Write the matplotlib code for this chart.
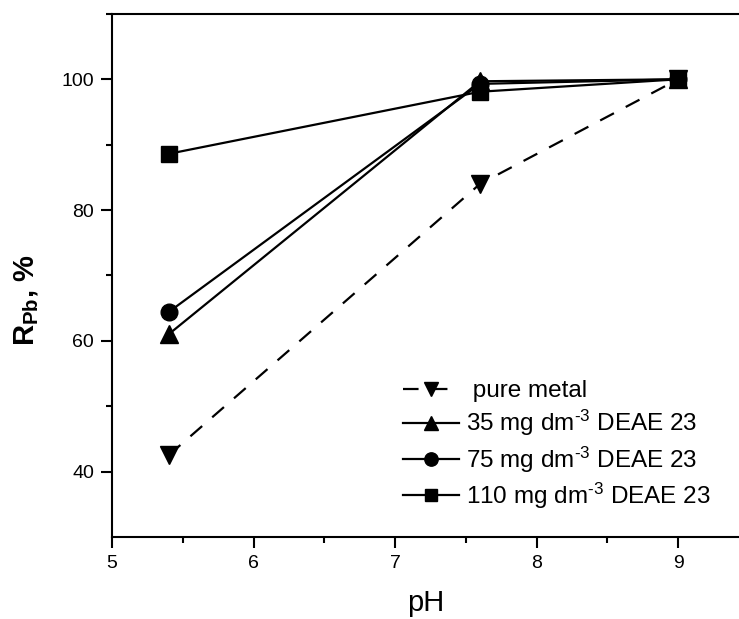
import matplotlib.pyplot as plt

plt.rcParams['font.family'] = ['Liberation Sans', 'DejaVu Sans']
plt.rcParams['mathtext.fontset'] = 'custom'
plt.rcParams['mathtext.rm'] = 'Liberation Sans'
plt.rcParams['mathtext.it'] = 'Liberation Sans:italic'
plt.rcParams['mathtext.bf'] = 'Liberation Sans:bold'

ph = [5.4, 7.6, 9.0]
pure_metal = [42.5, 84.0, 100.0]
deae_35 = [61.0, 99.7, 100.0]
deae_75 = [64.4, 99.3, 100.0]
deae_110 = [88.6, 98.1, 100.0]

labels = [' pure metal',
          r'35 mg dm$^{\text{-3}}$ DEAE 23',
          r'75 mg dm$^{\text{-3}}$ DEAE 23',
          r'110 mg dm$^{\text{-3}}$ DEAE 23']

fig = plt.figure(figsize=(7.39, 6.19), dpi=100)
ax = fig.add_axes([0.1516, 0.1325, 0.8484, 0.845])

ax.plot(ph, pure_metal, 'k--', marker='v', ms=13, lw=1.6, dashes=(7, 6), label=labels[0])
ax.plot(ph, deae_35, 'k-', marker='^', ms=13, lw=1.6, label=labels[1])
ax.plot(ph, deae_75, 'k-', marker='o', ms=12, lw=1.6, label=labels[2])
ax.plot(ph, deae_110, 'k-', marker='s', ms=11, lw=1.6, label=labels[3])

ax.set_xlim(5, 9.43)
ax.set_ylim(30, 110)
ax.set_xticks([5, 6, 7, 8, 9])
ax.set_xticks([5.5, 6.5, 7.5, 8.5], minor=True)
ax.set_yticks([40, 60, 80, 100])
ax.set_yticks([50, 70, 90, 110], minor=True)
ax.spines['right'].set_visible(False)
for s in ['left', 'bottom', 'top']:
    ax.spines[s].set_linewidth(1.5)
ax.tick_params(which='both', direction='out', width=1.5, labelsize=14, top=False, right=False)
ax.tick_params(which='major', length=8, pad=5)
ax.tick_params(which='minor', length=4)

ax.set_xlabel('pH', fontsize=21, labelpad=12)
ax.set_ylabel(r'$\mathbf{R_{Pb}}$, %', fontsize=21, fontweight='bold')
ax.yaxis.set_label_coords(-0.113, 0.453)

leg = ax.legend(loc='upper left', bbox_to_anchor=(403 / 739, 1 - 380 / 619),
                bbox_transform=fig.transFigure, frameon=False,
                fontsize=17.5, handlelength=2.3, handletextpad=0.3, labelspacing=0.25,
                borderpad=0, borderaxespad=0, markerscale=0.8)

fig.savefig('out.png', dpi=100)
